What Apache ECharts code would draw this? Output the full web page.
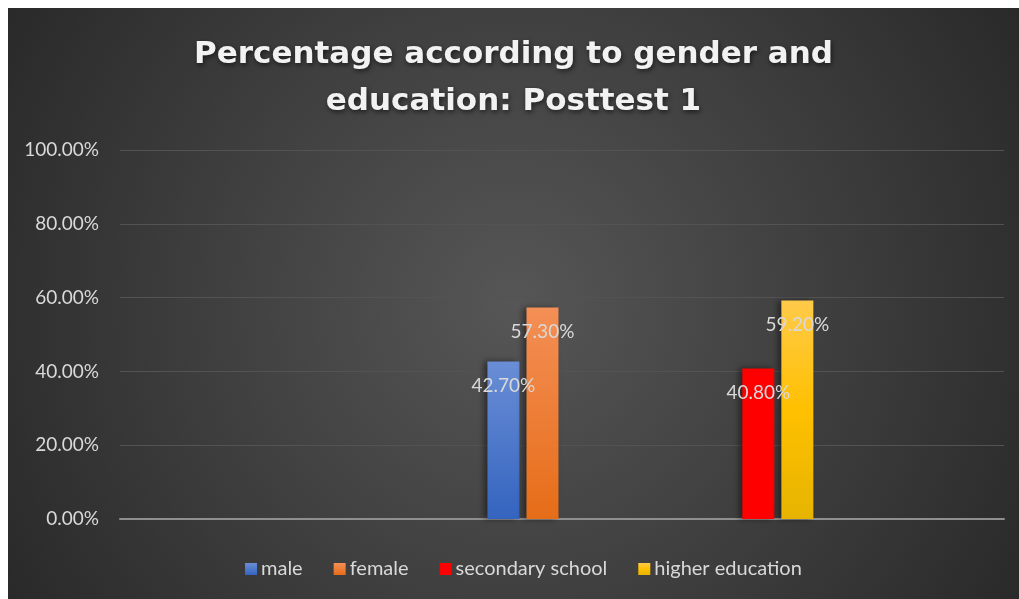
<!DOCTYPE html>
<html>
<head>
<meta charset="utf-8">
<title>Percentage according to gender and education: Posttest 1</title>
<script src="https://cdn.jsdelivr.net/npm/echarts@6/dist/echarts.min.js"></script>
<style>
  html, body { margin: 0; padding: 0; background: #ffffff; }
  #chart { position: absolute; left: 8px; top: 8px; width: 1011px; height: 591px; }
</style>
</head>
<body>
<div id="chart"></div>
<script>
// Category slots along the x axis (labels are hidden); groups sit in slots 3 and 4
const categories = ['', '', 'gender', 'education', ''];

// Shares per series (fraction of 1)
const male            = [null, null, 0.427, null, null];
const female          = [null, null, 0.573, null, null];
const secondarySchool = [null, null, null, 0.408, null];
const higherEducation = [null, null, null, 0.592, null];

const seriesNames = ['male', 'female', 'secondary school', 'higher education'];

// Y axis ticks
const yMin = 0, yMax = 1, yStep = 0.2;

const pct = v => (v * 100).toFixed(2) + '%';

function vGrad(top, bottom) {
  return {
    type: 'linear', x: 0, y: 0, x2: 0, y2: 1,
    colorStops: [{ offset: 0, color: top }, { offset: 1, color: bottom }]
  };
}

const fills = [
  vGrad('#6a8ed6', '#3464bf'),
  vGrad('#f48f56', '#e66d18'),
  '#ff0000',
  { type: 'linear', x: 0, y: 0, x2: 0, y2: 1,
    colorStops: [{ offset: 0, color: '#ffca4a' }, { offset: 0.5, color: '#ffc000' }, { offset: 1, color: '#e6b400' }] }
];

const dataSets = [male, female, secondarySchool, higherEducation];

const chart = echarts.init(document.getElementById('chart'));

chart.setOption({
  animation: false,
  backgroundColor: {
    type: 'radial', x: 0.5, y: 0.5, r: 1,
    colorStops: [
      { offset: 0, color: '#565656' },
      { offset: 1, color: '#292929' }
    ]
  },
  title: {
    text: 'Percentage according to gender and\neducation: Posttest 1',
    left: 'center',
    top: 18,
    textStyle: {
      fontFamily: 'DejaVu Sans',
      fontWeight: 'bold',
      fontSize: 31,
      lineHeight: 47,
      color: '#f2f2f2',
      textShadowColor: 'rgba(0,0,0,0.6)',
      textShadowBlur: 5,
      textShadowOffsetX: 1,
      textShadowOffsetY: 2
    }
  },
  legend: {
    data: seriesNames,
    top: 546,
    left: 232,
    icon: 'rect',
    itemWidth: 12,
    itemHeight: 12,
    itemGap: 31,
    textStyle: { color: '#d9d9d9', fontFamily: 'Lato', fontSize: 20, padding: [0, 0, 0, -1] }
  },
  grid: { left: 112, right: 15, top: 142, bottom: 80, containLabel: false },
  xAxis: {
    type: 'category',
    data: categories,
    axisLabel: { show: false },
    axisTick: { show: false },
    axisLine: { show: true, lineStyle: { color: '#8f8f8f', width: 2 } },
    splitLine: { show: false }
  },
  yAxis: {
    type: 'value',
    min: yMin,
    max: yMax,
    interval: yStep,
    axisLine: { show: false },
    axisTick: { show: false },
    axisLabel: {
      formatter: pct,
      color: '#d9d9d9',
      fontFamily: 'Lato',
      fontSize: 19,
      margin: 21
    },
    splitLine: { lineStyle: { color: '#535353', width: 1 } }
  },
  series: seriesNames.map((name, i) => ({
    name: name,
    type: 'bar',
    data: dataSets[i],
    barWidth: 32,
    barGap: '22%',
    itemStyle: {
      color: fills[i],
      shadowColor: 'rgba(0,0,0,0.45)',
      shadowBlur: 6,
      shadowOffsetX: -3,
      shadowOffsetY: 0
    },
    label: {
      show: true,
      position: 'insideTop',
      distance: 5,
      offset: [0, 10],
      formatter: p => pct(p.value),
      color: '#d9d9d9',
      fontFamily: 'Lato',
      fontSize: 19
    }
  }))
});
</script>
</body>
</html>
